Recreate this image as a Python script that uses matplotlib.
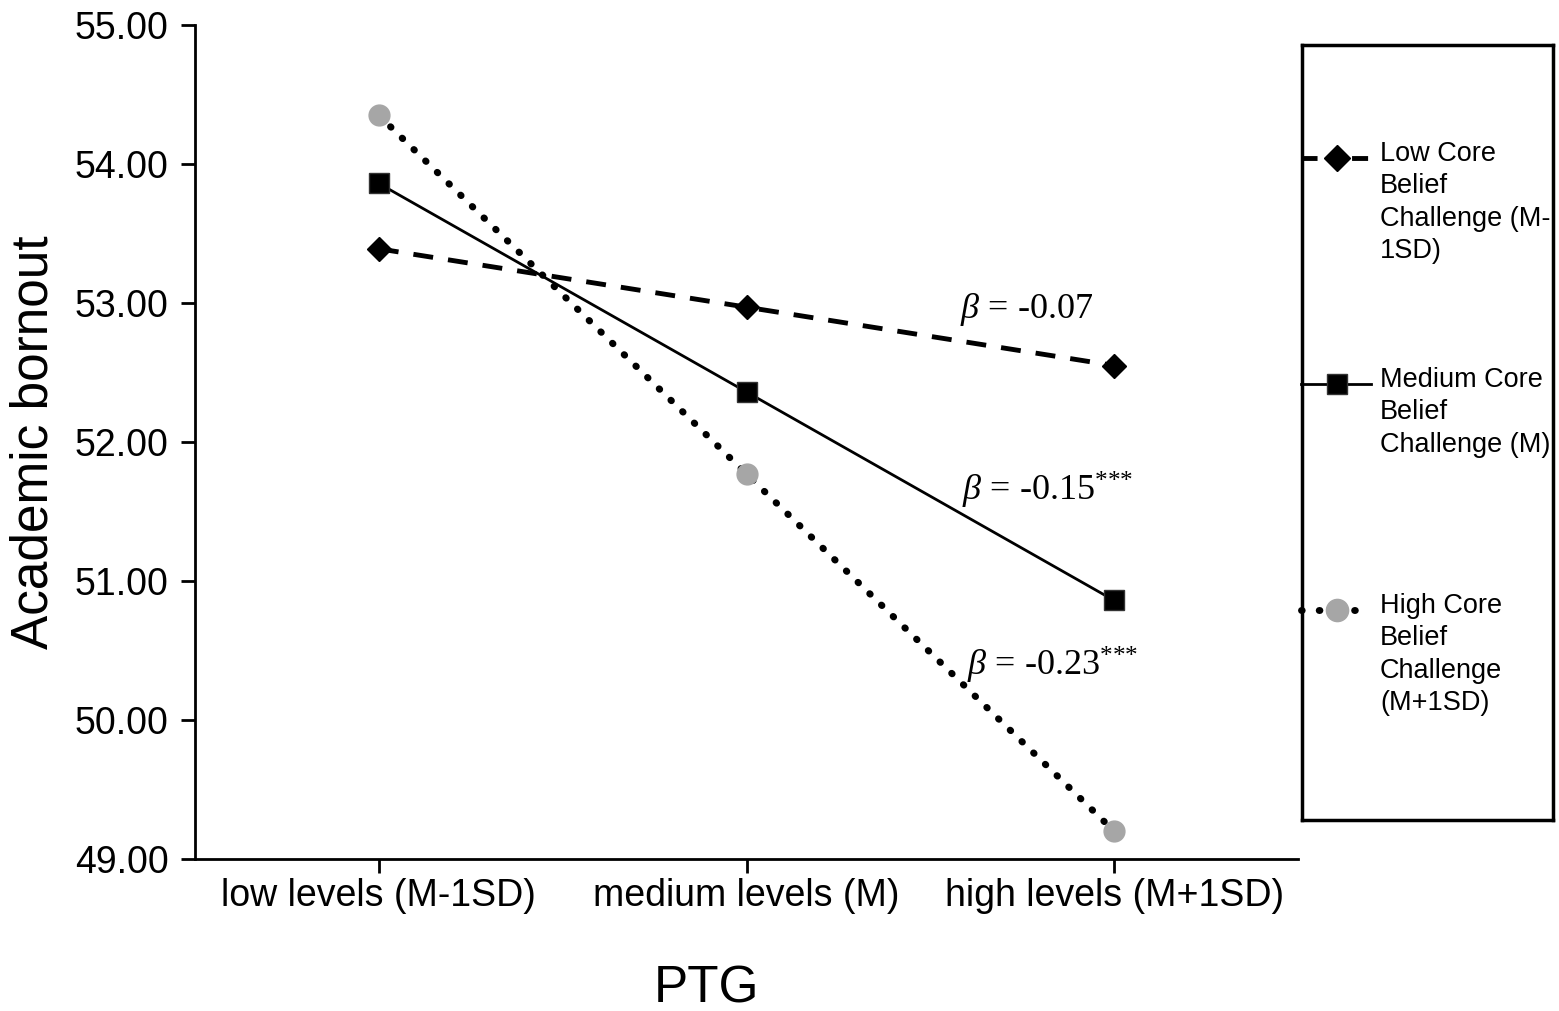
import matplotlib
matplotlib.use("Agg")
import matplotlib.pyplot as plt
from matplotlib.lines import Line2D

plt.rcParams['font.family'] = ['Liberation Sans', 'DejaVu Sans']
plt.rcParams['mathtext.fontset'] = 'custom'
plt.rcParams['mathtext.rm'] = 'Liberation Serif'
plt.rcParams['mathtext.it'] = 'Liberation Serif:italic'

categories = ["low levels (M-1SD)", "medium levels (M)", "high levels (M+1SD)"]
low_cbc = [53.39, 52.97, 52.55]
med_cbc = [53.86, 52.36, 50.86]
high_cbc = [54.35, 51.77, 49.20]
series_labels = ["Low Core\nBelief\nChallenge (M-\n1SD)",
                 "Medium Core\nBelief\nChallenge (M)",
                 "High Core\nBelief\nChallenge\n(M+1SD)"]
yticks = [49, 50, 51, 52, 53, 54, 55]
annotations = [r"$\beta$ = -0.07", r"$\beta$ = -0.15$^{{*}{*}{*}}$", r"$\beta$ = -0.23$^{{*}{*}{*}}$"]

W, H = 1559, 1011
fig = plt.figure(figsize=(W/100, H/100), dpi=100)
ax = fig.add_axes([195/W, 1-859/H, (1298-195)/W, (859-25)/H])

xs = [0.5, 1.5, 2.5]
styles = [
    dict(color='black', lw=3.5, linestyle=(0, (4.1, 3.1)), marker='D', ms=12, mfc='black', mec='black'),
    dict(color='black', lw=2, linestyle='-', marker='s', ms=14, mfc='black', mec='#333333'),
    dict(color='black', lw=5, linestyle=(0, (0.1, 2.25)), dash_capstyle='round', marker='o', ms=15, mfc='#a6a6a6', mec='#a6a6a6'),
]
legend_ls = [(0, (3.3, 1.9)), '-', (0, (0.1, 2.45))]
for ys, st in zip([low_cbc, med_cbc, high_cbc], styles):
    ax.plot(xs, ys, zorder=3, clip_on=False, **st)

ax.set_xlim(0, 3)
ax.set_ylim(49, 55)
ax.set_xticks(xs)
ax.set_xticklabels(categories)
ax.set_yticks(yticks)
ax.set_yticklabels([f"{v:.2f}" for v in yticks])
ax.tick_params(axis='both', labelsize=27, width=2, length=10, direction='out', colors='black')
ax.tick_params(axis='y', pad=9)
ax.tick_params(axis='x', pad=4)
for s in ['top', 'right']:
    ax.spines[s].set_visible(False)
for s in ['left', 'bottom']:
    ax.spines[s].set_linewidth(2)
ax.set_ylabel("Academic bornout", fontsize=37, labelpad=12)
ax.set_xlabel("PTG", fontsize=37, labelpad=36)
ax.xaxis.label.set_x((707 - 195) / (1298 - 195))

ann_pos = [(2.08, 52.95), (2.086, 51.655), (2.10, 50.396)]
for (x, y), t in zip(ann_pos, annotations):
    ax.text(x, y, t, fontsize=26, family='Liberation Serif', va='center', ha='left', zorder=4)

# legend box
lax = fig.add_axes([1302/W, 1-820/H, (1553-1302)/W, (820-45)/H])
lax.set_xlim(1302, 1553)
lax.set_ylim(820, 45)
lax.set_xticks([]); lax.set_yticks([])
for s in lax.spines.values():
    s.set_linewidth(2.5)
handle_y = [158, 384, 610]
for hy, st, ls, lab in zip(handle_y, styles, legend_ls, series_labels):
    lax.add_line(Line2D([1301, 1371], [hy, hy], clip_on=False, color='black', zorder=3,
                        lw=st['lw'], linestyle=ls, dash_capstyle=st.get('dash_capstyle', 'butt')))
    lax.plot([1337], [hy], marker=st['marker'], ms=st['ms'] + 1, mfc=st['mfc'], mec=st['mec'],
             linestyle='none', clip_on=False, zorder=4)
    t = lax.text(1380, hy - 17, lab, fontsize=19.5, va='top', ha='left', linespacing=1.32)
    t.set_clip_on(True)

fig.savefig("out.png", dpi=100, facecolor='white')
